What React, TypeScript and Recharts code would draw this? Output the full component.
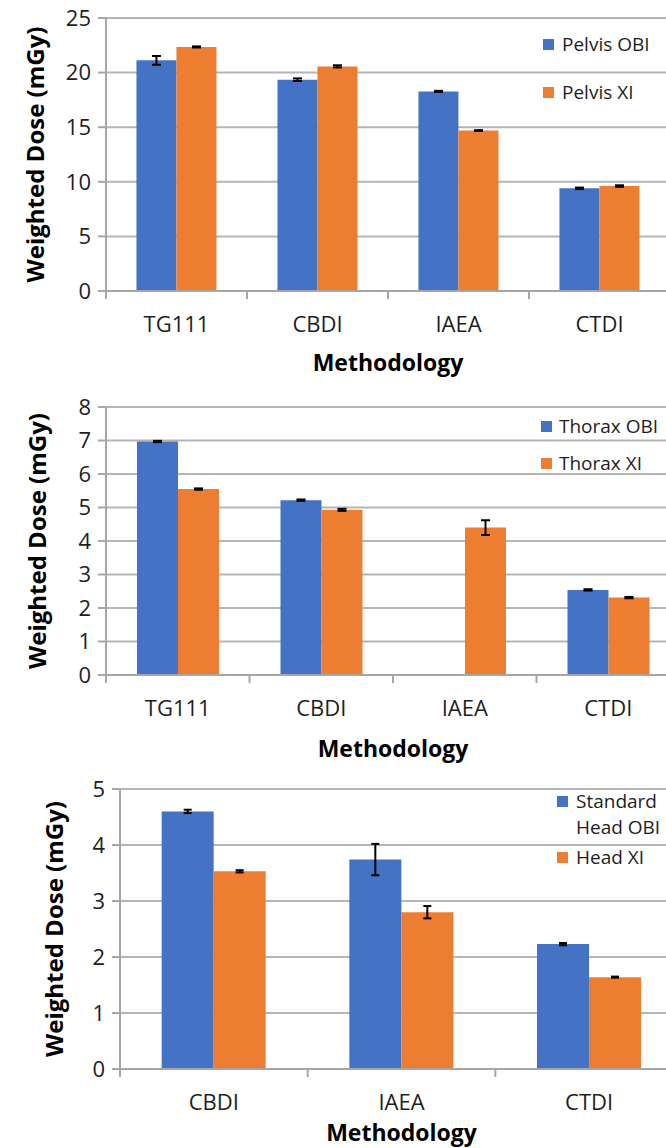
import React from 'react';
import { BarChart, Bar, XAxis, YAxis, CartesianGrid, ErrorBar, Legend } from 'recharts';

// ---------- DATA ----------
const pelvisCategories = ['TG111', 'CBDI', 'IAEA', 'CTDI'];
const pelvisObi = [21.12, 19.35, 18.28, 9.4];
const pelvisObiErr = [0.4, 0.12, 0.05, 0.07];
const pelvisXi = [22.35, 20.57, 14.69, 9.61];
const pelvisXiErr = [0.05, 0.1, 0.04, 0.07];
const pelvisTicks = [0, 5, 10, 15, 20, 25];

const thoraxCategories = ['TG111', 'CBDI', 'IAEA', 'CTDI'];
const thoraxObi: (number | null)[] = [6.97, 5.22, null, 2.54];
const thoraxObiErr: (number | null)[] = [0.02, 0.02, null, 0.02];
const thoraxXi = [5.55, 4.93, 4.4, 2.31];
const thoraxXiErr = [0.02, 0.03, 0.22, 0.02];
const thoraxTicks = [0, 1, 2, 3, 4, 5, 6, 7, 8];

const headCategories = ['CBDI', 'IAEA', 'CTDI'];
const headObi = [4.6, 3.74, 2.23];
const headObiErr = [0.03, 0.28, 0.02];
const headXi = [3.53, 2.8, 1.64];
const headXiErr = [0.02, 0.11, 0.01];
const headTicks = [0, 1, 2, 3, 4, 5];

// ---------- STYLE ----------
const BLUE = '#4472C4';
const ORANGE = '#ED7D31';
const GRID = '#b5b5b5';
const AXIS = '#a6a6a6';
const FONT = '"Open Sans", sans-serif';
const TEXT = '#1e1e1e';

const SERIES_ORDER = ['obi', 'xi'];

const buildRows = (
  cats: string[],
  obi: (number | null)[],
  obiErr: (number | null)[],
  xi: number[],
  xiErr: number[]
) => cats.map((c, i) => ({ name: c, obi: obi[i], obiErr: obiErr[i], xi: xi[i], xiErr: xiErr[i] }));

const XTick = (props: any) => {
  const { x, y, payload, index, band, count } = props;
  const half = band / 2;
  return (
    <g>
      <line x1={x - half} x2={x - half} y1={y} y2={y + 8} stroke={AXIS} strokeWidth={2} />
      {index === count - 1 && (
        <line x1={x + half} x2={x + half} y1={y} y2={y + 8} stroke={AXIS} strokeWidth={2} />
      )}
      <text
        x={x}
        y={y + 32}
        textAnchor="middle"
        dominantBaseline="central"
        fontSize={22}
        fontFamily={FONT}
        fill={TEXT}
      >
        {payload.value}
      </text>
    </g>
  );
};

const makeLegend = (rows: number[], textOffset: number, textWidth: number) => (props: any) => {
  const items = [...(props.payload || [])].sort(
    (a: any, b: any) => SERIES_ORDER.indexOf(a.dataKey) - SERIES_ORDER.indexOf(b.dataKey)
  );
  return (
    <div style={{ position: 'relative', width: 140, height: 120 }}>
      {items.map((p: any, i: number) => (
        <div key={i} style={{ position: 'absolute', left: 0, top: rows[i] - 13, width: 140 }}>
          <div
            style={{
              position: 'absolute',
              left: 0,
              top: 8,
              width: 11,
              height: 11,
              background: p.color,
            }}
          />
          <div
            style={{
              position: 'absolute',
              left: textOffset,
              top: 0,
              width: textWidth,
              fontFamily: FONT,
              fontSize: 19,
              lineHeight: '26px',
              color: TEXT,
              whiteSpace: 'normal',
            }}
          >
            {p.value}
          </div>
        </div>
      ))}
    </div>
  );
};

type PanelProps = {
  top: number;
  width: number;
  height: number;
  margin: { top: number; right: number; left: number; bottom: number };
  yWidth: number;
  xHeight: number;
  data: any[];
  ticks: number[];
  obiName: string;
  xiName: string;
  gap: string;
  yLabelDx: number;
  methY: number;
  legendLeft: number;
  legendRows: number[];
  legendTextOffset: number;
  legendTextWidth: number;
  capW: number;
};

const Panel = (p: PanelProps) => {
  const plotW = p.width - p.margin.left - p.margin.right - p.yWidth;
  const band = plotW / p.data.length;
  const domainMax = p.ticks[p.ticks.length - 1];
  return (
    <div style={{ position: 'absolute', left: 0, top: p.top }}>
      <BarChart
        width={p.width}
        height={p.height}
        data={p.data}
        margin={p.margin}
        barCategoryGap={p.gap}
        barGap={0}
      >
        <CartesianGrid vertical={false} stroke={GRID} strokeWidth={2} />
        <XAxis
          dataKey="name"
          height={p.xHeight}
          axisLine={{ stroke: AXIS, strokeWidth: 2 }}
          tickLine={false}
          tickSize={0}
          tickMargin={0}
          interval={0}
          tick={(tp: any) => <XTick {...tp} band={band} count={p.data.length} />}
          label={(lp: any) => {
            const vb = lp.viewBox || {};
            return (
              <text
                x={(vb.x ?? 0) + (vb.width ?? 0) / 2}
                y={(vb.y ?? 0) + p.methY}
                textAnchor="middle"
                dominantBaseline="central"
                fontFamily={FONT}
                fontWeight={700}
                fontSize={23}
                fill="#000"
              >
                Methodology
              </text>
            );
          }}
        />
        <YAxis
          width={p.yWidth}
          domain={[0, domainMax]}
          ticks={p.ticks}
          interval={0}
          axisLine={{ stroke: AXIS, strokeWidth: 2 }}
          tickLine={{ stroke: AXIS, strokeWidth: 2 }}
          tickSize={8}
          tickMargin={7}
          tick={{ fontSize: 22, fontFamily: FONT, fill: TEXT }}
          label={(lp: any) => {
            const vb = lp.viewBox || {};
            const cx = (vb.x ?? 0) + (vb.width ?? 0) - p.yLabelDx;
            const cy = (vb.y ?? 0) + (vb.height ?? 0) / 2;
            return (
              <text
                x={cx}
                y={cy}
                transform={`rotate(-90 ${cx} ${cy})`}
                textAnchor="middle"
                dominantBaseline="central"
                fontFamily={FONT}
                fontWeight={700}
                fontSize={24}
                fill="#000"
              >
                Weighted Dose (mGy)
              </text>
            );
          }}
        />
        <Legend
          layout="horizontal"
          verticalAlign="middle"
          align="center"
          wrapperStyle={{ left: p.legendLeft, top: 0, width: 140, height: 120 }}
          content={makeLegend(p.legendRows, p.legendTextOffset, p.legendTextWidth)}
        />
        <Bar dataKey="obi" name={p.obiName} fill={BLUE} isAnimationActive={false}>
          <ErrorBar dataKey="obiErr" width={p.capW} stroke="#000" strokeWidth={2} />
        </Bar>
        <Bar dataKey="xi" name={p.xiName} fill={ORANGE} isAnimationActive={false}>
          <ErrorBar dataKey="xiErr" width={p.capW} stroke="#000" strokeWidth={2} />
        </Bar>
      </BarChart>
    </div>
  );
};

export default function App() {
  const pelvisData = buildRows(pelvisCategories, pelvisObi, pelvisObiErr, pelvisXi, pelvisXiErr);
  const thoraxData = buildRows(thoraxCategories, thoraxObi, thoraxObiErr, thoraxXi, thoraxXiErr);
  const headData = buildRows(headCategories, headObi, headObiErr, headXi, headXiErr);
  return (
    <div
      style={{
        position: 'absolute',
        left: 0,
        top: 0,
        width: 666,
        height: 1148,
        overflow: 'hidden',
        background: '#fff',
      }}
    >
      <Panel
        top={0}
        width={680}
        height={380}
        margin={{ top: 18, right: 10, left: 0, bottom: 0 }}
        yWidth={106}
        xHeight={89}
        data={pelvisData}
        ticks={pelvisTicks}
        obiName="Pelvis OBI"
        xiName="Pelvis XI"
        gap="21.6%"
        yLabelDx={72}
        methY={71}
        legendLeft={543}
        legendRows={[44, 92]}
        legendTextOffset={19}
        legendTextWidth={120}
        capW={4.5}
      />
      <Panel
        top={390}
        width={690}
        height={380}
        margin={{ top: 17, right: 10, left: 0, bottom: 0 }}
        yWidth={106}
        xHeight={95}
        data={thoraxData}
        ticks={thoraxTicks}
        obiName="Thorax OBI"
        xiName="Thorax XI"
        gap="21.6%"
        yLabelDx={70}
        methY={73}
        legendLeft={541}
        legendRows={[36, 73]}
        legendTextOffset={18}
        legendTextWidth={120}
        capW={4.5}
      />
      <Panel
        top={770}
        width={700}
        height={378}
        margin={{ top: 19, right: 17, left: 0, bottom: 0 }}
        yWidth={120}
        xHeight={79}
        data={headData}
        ticks={headTicks}
        obiName="Standard Head OBI"
        xiName="Head XI"
        gap="22.2%"
        yLabelDx={67}
        methY={63}
        legendLeft={557}
        legendRows={[31, 87]}
        legendTextOffset={19}
        legendTextWidth={92}
        capW={4}
      />
    </div>
  );
}
